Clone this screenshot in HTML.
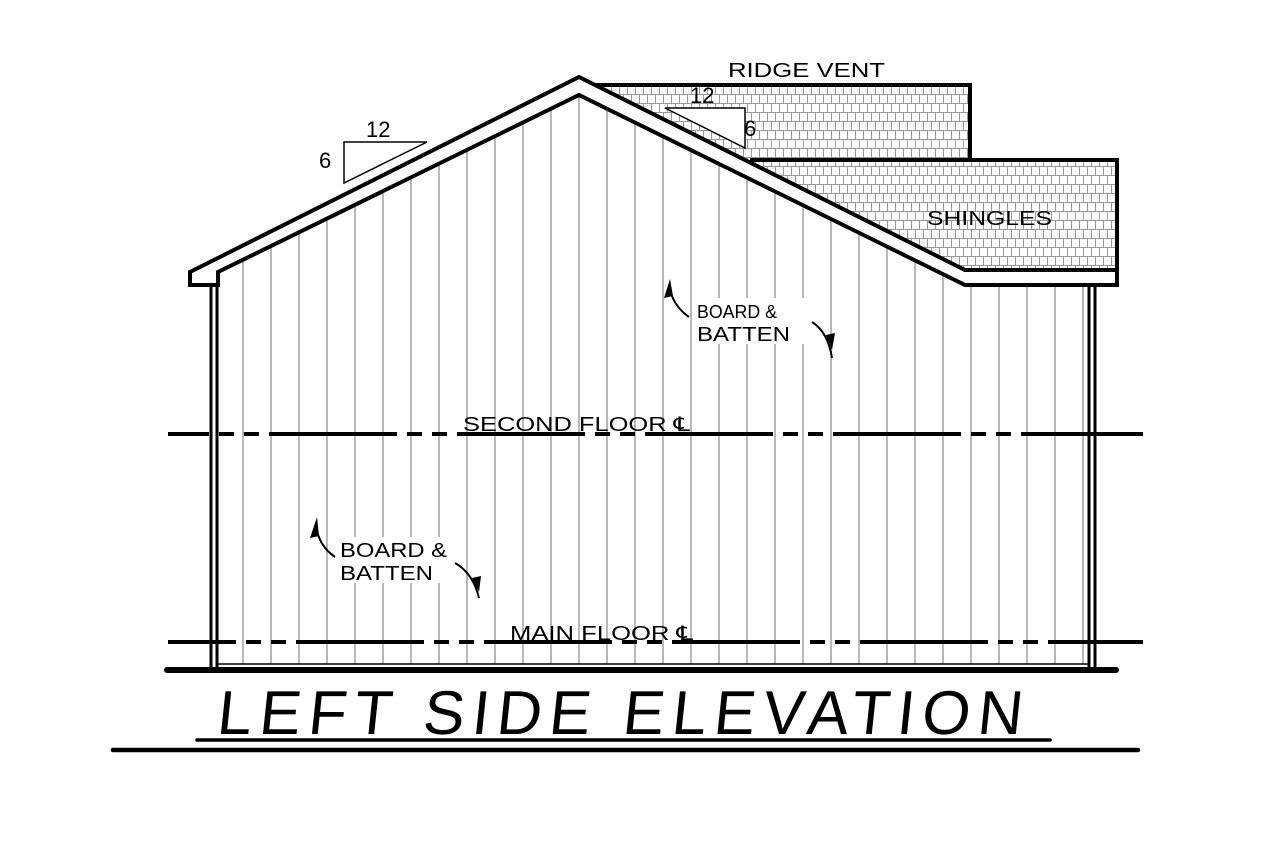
<!DOCTYPE html>
<html><head><meta charset="utf-8"><style>
html,body{margin:0;padding:0;background:#fff;}
svg{display:block;}
text{font-family:"Liberation Sans Narrow","Liberation Sans",sans-serif;fill:#000;}
</style></head><body>
<svg id="s" width="1280" height="853" viewBox="0 0 1280 853" xmlns="http://www.w3.org/2000/svg">
<defs>
<pattern id="sh" x="0" y="85" width="16" height="18" patternUnits="userSpaceOnUse">
<rect width="16" height="18" fill="#fff"/>
<path d="M0 0.5H16M0 9.5H16M3.5 0V9M11.5 0V9M7.5 9V18M15.5 9V18" stroke="#999" stroke-width="1" fill="none"/>
</pattern>
</defs>
<rect x="580" y="85" width="390" height="76" fill="url(#sh)"/>
<rect x="745" y="160" width="372" height="112" fill="url(#sh)"/>
<path d="M590 85H970V160M750 160H1117V272" fill="none" stroke="#000" stroke-width="4"/>
<polygon points="211,285 211,668 1095,668 1095,285 965,285 579,95 218,272 218,285" fill="#fff"/>
<g id="bat" stroke="#888" stroke-width="1.2"></g>
<path d="M211 285V668M217 285V668M1089 285V668M1095 285V668" stroke="#000" stroke-width="3" fill="none"/>
<line x1="217" y1="664" x2="1089" y2="664" stroke="#000" stroke-width="1.5"/>
<polygon points="579,77 190,272 190,285 218,285 218,272 579,95 965,285 1117,285 1117,270 965,270" fill="#fff" stroke="#000" stroke-width="4" stroke-linejoin="miter"/>
<polygon points="344,142 427,142 344,183" fill="#fff" stroke="#000" stroke-width="1.5"/>
<text x="366" y="137" font-size="22">12</text>
<text x="319" y="168" font-size="22">6</text>
<polygon points="665,108 745,108 745,148" fill="#fff" stroke="#000" stroke-width="1.5"/>
<text x="690" y="103" font-size="22">12</text>
<text x="744" y="136" font-size="22">6</text>
<line x1="168" y1="434" x2="1143" y2="434" stroke="#000" stroke-width="4" stroke-dasharray="128 10 15 10 15 10" stroke-dashoffset="87"/>
<line x1="168" y1="642" x2="1143" y2="642" stroke="#000" stroke-width="4" stroke-dasharray="128 10 15 10 15 10" stroke-dashoffset="60"/>
<g font-size="20">
<text x="728" y="77" textLength="157" lengthAdjust="spacingAndGlyphs">RIDGE VENT</text>
<text x="927" y="225" textLength="125" lengthAdjust="spacingAndGlyphs">SHINGLES</text>
<rect x="695" y="298" width="110" height="46" fill="#fff"/>
<text x="697" y="318" font-size="18" textLength="80" lengthAdjust="spacingAndGlyphs">BOARD &amp;</text>
<text x="697" y="341" textLength="93" lengthAdjust="spacingAndGlyphs">BATTEN</text>
<rect x="338" y="537" width="112" height="46" fill="#fff"/>
<text x="340" y="557" textLength="107" lengthAdjust="spacingAndGlyphs">BOARD &amp;</text>
<text x="340" y="580" textLength="93" lengthAdjust="spacingAndGlyphs">BATTEN</text>
<text x="463" y="431" textLength="227" lengthAdjust="spacingAndGlyphs">SECOND FLOOR ℄</text>
<text x="510" y="640" textLength="183" lengthAdjust="spacingAndGlyphs">MAIN FLOOR ℄</text>
</g>
<g fill="none" stroke="#000" stroke-width="2">
<path d="M689 317 Q672 305 669 285"/>
<path d="M812 322 Q828 332 832 358"/>
<path d="M335 557 Q318 545 316 525"/>
<path d="M455 563 Q473 573 479 598"/>
</g>
<g fill="#000">
<polygon points="664,298 673,296 670,279"/>
<polygon points="826,335 835,333 832,350"/>
<polygon points="310,538 319,536 317,517"/>
<polygon points="472,578 481,576 479,592"/>
</g>
<line x1="167" y1="670" x2="1116" y2="670" stroke="#000" stroke-width="6" stroke-linecap="round"/>
<text x="215" y="734" font-size="62" textLength="805" lengthAdjust="spacing" transform="translate(140,0) skewX(-6) translate(0,0)" style="font-weight:normal" dx="-62">LEFT SIDE ELEVATION</text>
<line x1="197" y1="740" x2="1050" y2="740" stroke="#000" stroke-width="3.5" stroke-linecap="round"/>
<line x1="113" y1="750" x2="1138" y2="750" stroke="#000" stroke-width="4.5" stroke-linecap="round"/>
</svg>
<script>
var g=document.getElementById('bat'),ns='http://www.w3.org/2000/svg';
for(var x=243;x<1089;x+=28){
 var y;
 if(x<=579) y=95+(579-x)*0.4903;
 else if(x<=965) y=95+(x-579)*0.4922;
 else y=285;
 var l=document.createElementNS(ns,'line');
 l.setAttribute('x1',x);l.setAttribute('x2',x);
 l.setAttribute('y1',y);l.setAttribute('y2',664);
 g.appendChild(l);
}
</script>
</body></html>
